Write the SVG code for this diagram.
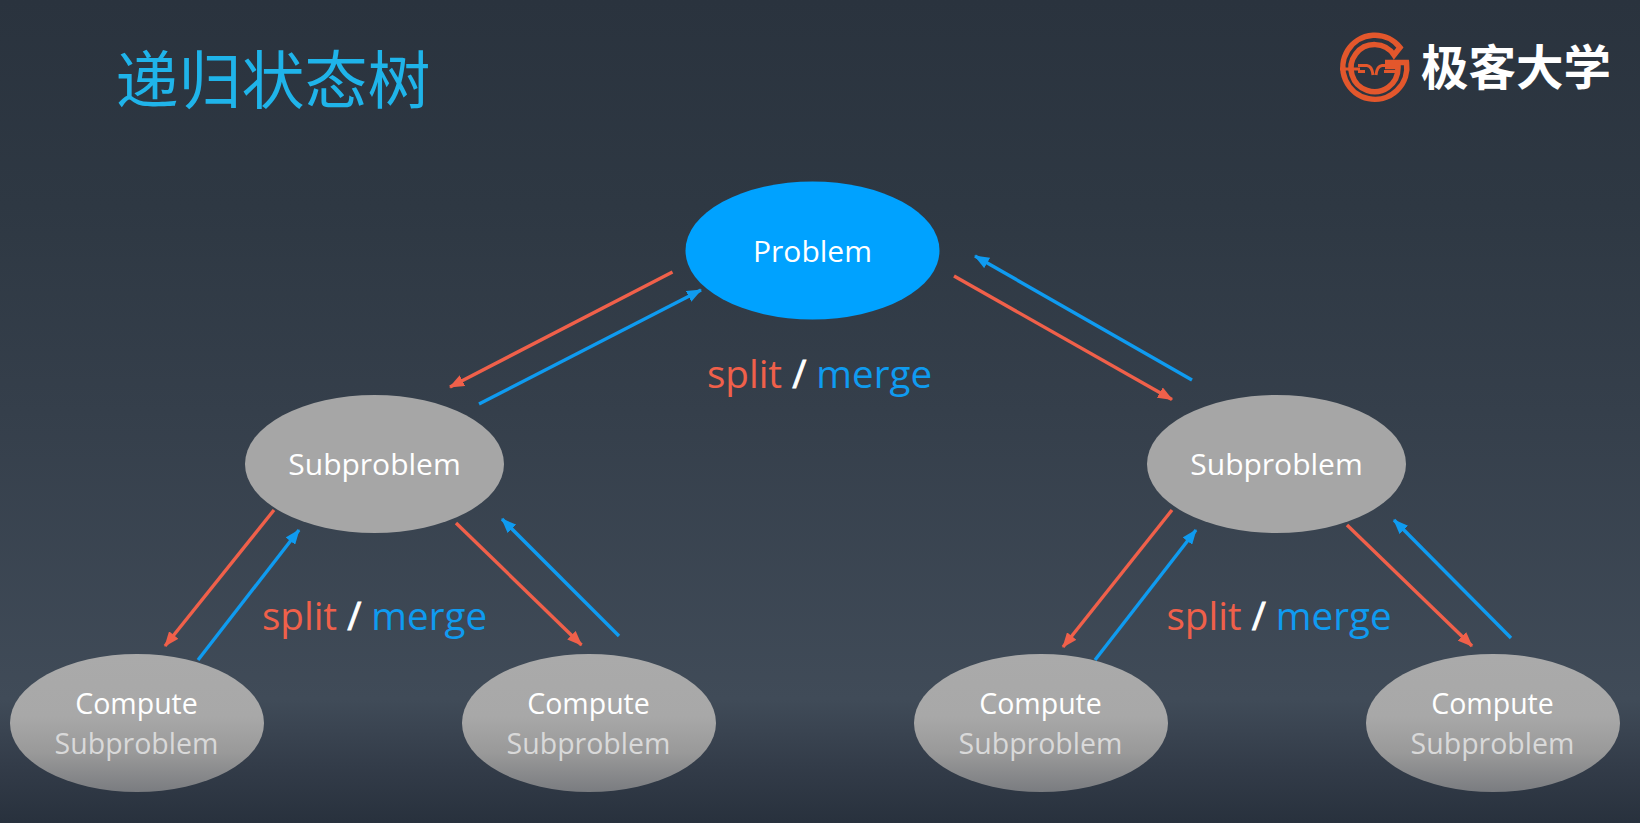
<svg xmlns="http://www.w3.org/2000/svg" width="1640" height="823" viewBox="0 0 1640 823">
<style>
text{font-family:"Open Sans","Noto Sans",sans-serif;text-anchor:middle}
.n{font-size:30px;fill:#fff}
.t{font-size:28.5px;fill:#fff}
.f{font-size:28.5px;fill:#d9d9d9}
.l{font-size:38.6px}
.s{fill:#fff;stroke:#fff;stroke-width:.8}
.r{stroke:#f0604a;stroke-width:3.4;fill:none;marker-end:url(#mr)}
.b{stroke:#0f9bf0;stroke-width:3.4;fill:none;marker-end:url(#mb)}
.g{fill:#a6a6a6}
.c{fill:url(#fade)}
.o{fill:none;stroke:#e3572c}
</style>
<defs>
<linearGradient id="bg" x1="0" y1="0" x2="0" y2="1">
<stop offset="0" stop-color="#2a333e"/>
<stop offset="0.25" stop-color="#2e3843"/>
<stop offset="0.5" stop-color="#353f4b"/>
<stop offset="0.85" stop-color="#404b58"/>
<stop offset="0.93" stop-color="#333c49"/>
<stop offset="1" stop-color="#28313d"/>
</linearGradient>
<linearGradient id="fade" x1="0" y1="0" x2="0" y2="1">
<stop offset="0" stop-color="#aaa"/>
<stop offset="0.45" stop-color="#a8a8a8"/>
<stop offset="0.72" stop-color="#999"/>
<stop offset="1" stop-color="#7a7c80"/>
</linearGradient>
<marker id="mr" markerUnits="userSpaceOnUse" markerWidth="16" markerHeight="12" refX="14" refY="6" orient="auto"><path d="M0 0L15 6L0 12Z" fill="#f0604a"/></marker>
<marker id="mb" markerUnits="userSpaceOnUse" markerWidth="16" markerHeight="12" refX="14" refY="6" orient="auto"><path d="M0 0L15 6L0 12Z" fill="#0f9bf0"/></marker>
</defs>
<rect width="1640" height="823" fill="url(#bg)"/>
<text id="title" x="273" y="103" style="font-family:'Noto Sans CJK SC',sans-serif;font-size:63px;fill:#1fb4ea">递归状态树</text>
<g id="logo">
<path class="o" stroke-width="5.5" stroke-linejoin="miter" d="M1385 62.500H1406.500A32 32 0 1 1 1400 47.500L1394 55A23.500 23.500 0 1 0 1398 68V66.500H1385"/>
<path class="o" stroke-width="3" d="M1340 69H1360M1358 65.500H1367Q1372 66 1373 75M1376 75Q1377 66 1382 65.500H1396M1358 71.500H1365M1384 71.500H1396"/>
<text x="1516" y="85" style="font-family:'Noto Sans CJK SC',sans-serif;font-size:47.500px;font-weight:700;fill:#fff">极客大学</text>
</g>
<g id="connectors">
<line class="r" x1="672.500" y1="272" x2="450" y2="387"/>
<line class="b" x1="479" y1="404" x2="701" y2="290"/>
<line class="r" x1="954" y1="276" x2="1172" y2="399.500"/>
<line class="b" x1="1192" y1="380" x2="975" y2="256"/>
<line class="r" x1="274" y1="510" x2="165" y2="646"/>
<line class="b" x1="198" y1="660" x2="299" y2="530"/>
<line class="r" x1="456" y1="523" x2="581.500" y2="645"/>
<line class="b" x1="619" y1="636" x2="502" y2="519"/>
<line class="r" x1="1172" y1="510" x2="1063" y2="647"/>
<line class="b" x1="1095" y1="660" x2="1196" y2="530"/>
<line class="r" x1="1347" y1="525" x2="1472" y2="646"/>
<line class="b" x1="1511" y1="638" x2="1394" y2="520"/>
</g>
<g id="problem"><ellipse cx="812.500" cy="250.500" rx="127" ry="69" fill="#00a2ff"/><text class="n" x="812.500" y="262">Problem</text></g>
<g id="sub-left"><ellipse class="g" cx="374.500" cy="464" rx="129.500" ry="69"/><text class="n" x="374.500" y="475">Subproblem</text></g>
<g id="sub-right"><ellipse class="g" cx="1276.500" cy="464" rx="129.500" ry="69"/><text class="n" x="1276.500" y="475">Subproblem</text></g>
<g id="compute-1"><ellipse class="c" cx="137" cy="723" rx="127" ry="69"/><text class="t" x="136.500" y="714">Compute</text><text class="f" x="136.500" y="754">Subproblem</text></g>
<g id="compute-2"><ellipse class="c" cx="589" cy="723" rx="127" ry="69"/><text class="t" x="588.500" y="714">Compute</text><text class="f" x="588.500" y="754">Subproblem</text></g>
<g id="compute-3"><ellipse class="c" cx="1041" cy="723" rx="127" ry="69"/><text class="t" x="1040.500" y="714">Compute</text><text class="f" x="1040.500" y="754">Subproblem</text></g>
<g id="compute-4"><ellipse class="c" cx="1493" cy="723" rx="127" ry="69"/><text class="t" x="1492.500" y="714">Compute</text><text class="f" x="1492.500" y="754">Subproblem</text></g>
<g id="label-top"><text class="l" x="819.500" y="388"><tspan fill="#f0604a">split</tspan><tspan class="s"> / </tspan><tspan fill="#0f9bf0">merge</tspan></text></g>
<g id="label-left"><text class="l" x="374.500" y="630"><tspan fill="#f0604a">split</tspan><tspan class="s"> / </tspan><tspan fill="#0f9bf0">merge</tspan></text></g>
<g id="label-right"><text class="l" x="1279" y="630"><tspan fill="#f0604a">split</tspan><tspan class="s"> / </tspan><tspan fill="#0f9bf0">merge</tspan></text></g>
</svg>
